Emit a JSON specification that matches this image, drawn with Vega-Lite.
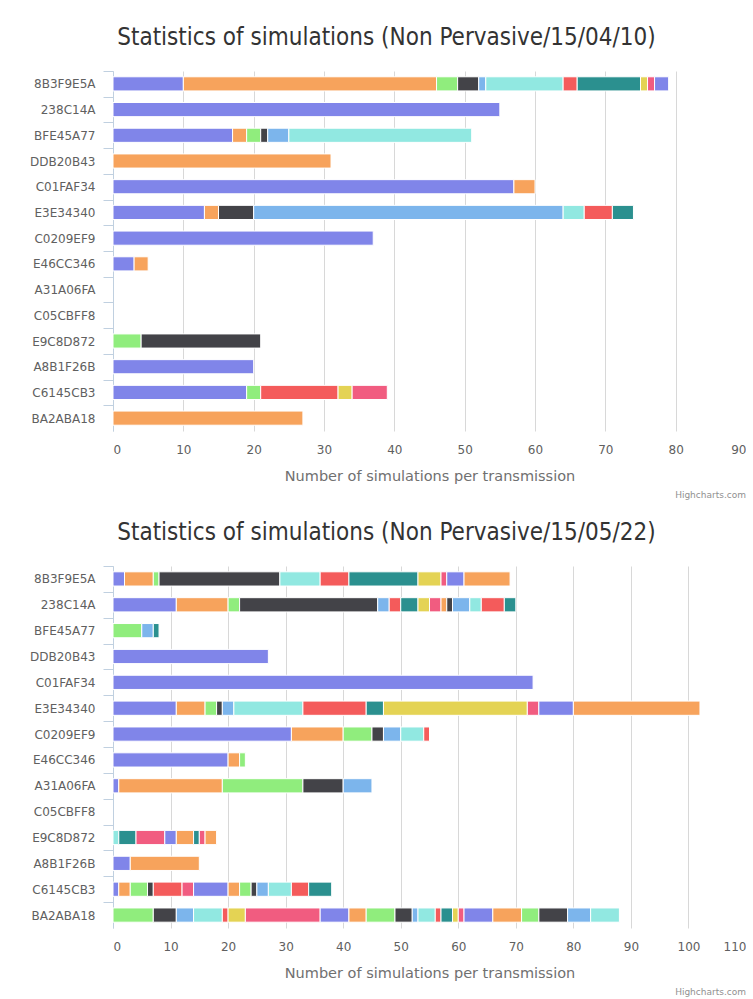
{
  "$schema": "https://vega.github.io/schema/vega-lite/v6.json",
  "background": "white",
  "padding": {"left": 15, "top": 25, "right": 0, "bottom": 2},
  "spacing": 20,
  "config": {
    "font": "DejaVu Sans",
    "view": {"stroke": null},
    "title": {"font": "DejaVu Sans Condensed", "fontSize": 24, "fontWeight": "normal", "color": "#333333", "anchor": "middle", "offset": 21},
    "axis": {"labelFont": "DejaVu Sans", "titleFont": "DejaVu Sans"}
  },
  "datasets": {
    "a": [
      {"id": "8B3F9E5A", "series": 1, "n": 10}, {"id": "8B3F9E5A", "series": 2, "n": 36}, {"id": "8B3F9E5A", "series": 3, "n": 3}, {"id": "8B3F9E5A", "series": 4, "n": 3}, {"id": "8B3F9E5A", "series": 5, "n": 1}, {"id": "8B3F9E5A", "series": 6, "n": 11}, {"id": "8B3F9E5A", "series": 7, "n": 2}, {"id": "8B3F9E5A", "series": 8, "n": 9}, {"id": "8B3F9E5A", "series": 9, "n": 1}, {"id": "8B3F9E5A", "series": 10, "n": 1}, {"id": "8B3F9E5A", "series": 11, "n": 2},
      {"id": "238C14A", "series": 1, "n": 55},
      {"id": "BFE45A77", "series": 1, "n": 17}, {"id": "BFE45A77", "series": 2, "n": 2}, {"id": "BFE45A77", "series": 3, "n": 2}, {"id": "BFE45A77", "series": 4, "n": 1}, {"id": "BFE45A77", "series": 5, "n": 3}, {"id": "BFE45A77", "series": 6, "n": 26},
      {"id": "DDB20B43", "series": 2, "n": 31},
      {"id": "C01FAF34", "series": 1, "n": 57}, {"id": "C01FAF34", "series": 2, "n": 3},
      {"id": "E3E34340", "series": 1, "n": 13}, {"id": "E3E34340", "series": 2, "n": 2}, {"id": "E3E34340", "series": 4, "n": 5}, {"id": "E3E34340", "series": 5, "n": 44}, {"id": "E3E34340", "series": 6, "n": 3}, {"id": "E3E34340", "series": 7, "n": 4}, {"id": "E3E34340", "series": 8, "n": 3},
      {"id": "C0209EF9", "series": 1, "n": 37},
      {"id": "E46CC346", "series": 1, "n": 3}, {"id": "E46CC346", "series": 2, "n": 2},
      {"id": "E9C8D872", "series": 3, "n": 4}, {"id": "E9C8D872", "series": 4, "n": 17},
      {"id": "A8B1F26B", "series": 1, "n": 20},
      {"id": "C6145CB3", "series": 1, "n": 19}, {"id": "C6145CB3", "series": 3, "n": 2}, {"id": "C6145CB3", "series": 7, "n": 11}, {"id": "C6145CB3", "series": 9, "n": 2}, {"id": "C6145CB3", "series": 10, "n": 5},
      {"id": "BA2ABA18", "series": 2, "n": 27}
    ],
    "b": [
      {"id": "8B3F9E5A", "series": 1, "n": 2}, {"id": "8B3F9E5A", "series": 2, "n": 5}, {"id": "8B3F9E5A", "series": 3, "n": 1}, {"id": "8B3F9E5A", "series": 4, "n": 21}, {"id": "8B3F9E5A", "series": 6, "n": 7}, {"id": "8B3F9E5A", "series": 7, "n": 5}, {"id": "8B3F9E5A", "series": 8, "n": 12}, {"id": "8B3F9E5A", "series": 9, "n": 4}, {"id": "8B3F9E5A", "series": 10, "n": 1}, {"id": "8B3F9E5A", "series": 11, "n": 3}, {"id": "8B3F9E5A", "series": 12, "n": 8},
      {"id": "238C14A", "series": 1, "n": 11}, {"id": "238C14A", "series": 2, "n": 9}, {"id": "238C14A", "series": 3, "n": 2}, {"id": "238C14A", "series": 4, "n": 24}, {"id": "238C14A", "series": 5, "n": 2}, {"id": "238C14A", "series": 7, "n": 2}, {"id": "238C14A", "series": 8, "n": 3}, {"id": "238C14A", "series": 9, "n": 2}, {"id": "238C14A", "series": 10, "n": 2}, {"id": "238C14A", "series": 12, "n": 1}, {"id": "238C14A", "series": 14, "n": 1}, {"id": "238C14A", "series": 15, "n": 3}, {"id": "238C14A", "series": 16, "n": 2}, {"id": "238C14A", "series": 17, "n": 4}, {"id": "238C14A", "series": 18, "n": 2},
      {"id": "BFE45A77", "series": 3, "n": 5}, {"id": "BFE45A77", "series": 5, "n": 2}, {"id": "BFE45A77", "series": 8, "n": 1},
      {"id": "DDB20B43", "series": 1, "n": 27},
      {"id": "C01FAF34", "series": 1, "n": 73},
      {"id": "E3E34340", "series": 1, "n": 11}, {"id": "E3E34340", "series": 2, "n": 5}, {"id": "E3E34340", "series": 3, "n": 2}, {"id": "E3E34340", "series": 4, "n": 1}, {"id": "E3E34340", "series": 5, "n": 2}, {"id": "E3E34340", "series": 6, "n": 12}, {"id": "E3E34340", "series": 7, "n": 11}, {"id": "E3E34340", "series": 8, "n": 3}, {"id": "E3E34340", "series": 9, "n": 25}, {"id": "E3E34340", "series": 10, "n": 2}, {"id": "E3E34340", "series": 11, "n": 6}, {"id": "E3E34340", "series": 12, "n": 22},
      {"id": "C0209EF9", "series": 1, "n": 31}, {"id": "C0209EF9", "series": 2, "n": 9}, {"id": "C0209EF9", "series": 3, "n": 5}, {"id": "C0209EF9", "series": 4, "n": 2}, {"id": "C0209EF9", "series": 5, "n": 3}, {"id": "C0209EF9", "series": 6, "n": 4}, {"id": "C0209EF9", "series": 7, "n": 1},
      {"id": "E46CC346", "series": 1, "n": 20}, {"id": "E46CC346", "series": 2, "n": 2}, {"id": "E46CC346", "series": 3, "n": 1},
      {"id": "A31A06FA", "series": 1, "n": 1}, {"id": "A31A06FA", "series": 2, "n": 18}, {"id": "A31A06FA", "series": 3, "n": 14}, {"id": "A31A06FA", "series": 4, "n": 7}, {"id": "A31A06FA", "series": 5, "n": 5},
      {"id": "E9C8D872", "series": 6, "n": 1}, {"id": "E9C8D872", "series": 8, "n": 3}, {"id": "E9C8D872", "series": 10, "n": 5}, {"id": "E9C8D872", "series": 11, "n": 2}, {"id": "E9C8D872", "series": 12, "n": 3}, {"id": "E9C8D872", "series": 18, "n": 1}, {"id": "E9C8D872", "series": 20, "n": 1}, {"id": "E9C8D872", "series": 22, "n": 2},
      {"id": "A8B1F26B", "series": 1, "n": 3}, {"id": "A8B1F26B", "series": 2, "n": 12},
      {"id": "C6145CB3", "series": 1, "n": 1}, {"id": "C6145CB3", "series": 2, "n": 2}, {"id": "C6145CB3", "series": 3, "n": 3}, {"id": "C6145CB3", "series": 4, "n": 1}, {"id": "C6145CB3", "series": 7, "n": 5}, {"id": "C6145CB3", "series": 10, "n": 2}, {"id": "C6145CB3", "series": 11, "n": 6}, {"id": "C6145CB3", "series": 12, "n": 2}, {"id": "C6145CB3", "series": 13, "n": 2}, {"id": "C6145CB3", "series": 14, "n": 1}, {"id": "C6145CB3", "series": 15, "n": 2}, {"id": "C6145CB3", "series": 16, "n": 4}, {"id": "C6145CB3", "series": 17, "n": 3}, {"id": "C6145CB3", "series": 18, "n": 4},
      {"id": "BA2ABA18", "series": 3, "n": 7}, {"id": "BA2ABA18", "series": 4, "n": 4}, {"id": "BA2ABA18", "series": 5, "n": 3}, {"id": "BA2ABA18", "series": 6, "n": 5}, {"id": "BA2ABA18", "series": 7, "n": 1}, {"id": "BA2ABA18", "series": 9, "n": 3}, {"id": "BA2ABA18", "series": 10, "n": 13}, {"id": "BA2ABA18", "series": 11, "n": 5}, {"id": "BA2ABA18", "series": 12, "n": 3}, {"id": "BA2ABA18", "series": 13, "n": 5}, {"id": "BA2ABA18", "series": 14, "n": 3}, {"id": "BA2ABA18", "series": 15, "n": 1}, {"id": "BA2ABA18", "series": 16, "n": 3}, {"id": "BA2ABA18", "series": 17, "n": 1}, {"id": "BA2ABA18", "series": 18, "n": 2}, {"id": "BA2ABA18", "series": 19, "n": 1}, {"id": "BA2ABA18", "series": 20, "n": 1}, {"id": "BA2ABA18", "series": 21, "n": 5}, {"id": "BA2ABA18", "series": 22, "n": 5}, {"id": "BA2ABA18", "series": 23, "n": 3}, {"id": "BA2ABA18", "series": 24, "n": 5}, {"id": "BA2ABA18", "series": 25, "n": 4}, {"id": "BA2ABA18", "series": 26, "n": 5}
    ]
  },
  "vconcat": [
    {
      "title": {"text": "Statistics of simulations (Non Pervasive/15/04/10)", "dx": 6},
      "vconcat": [
        {
          "title": {"text": "Highcharts.com", "orient": "bottom", "anchor": "end", "fontSize": 9, "font": "DejaVu Sans", "color": "#909090", "offset": 8},
          "data": {"name": "a"},
          "width": 633,
          "height": 360,
          "mark": {"type": "bar", "stroke": "#ffffff", "strokeWidth": 1},
          "encoding": {
            "y": {
              "field": "id", "type": "nominal",
              "scale": {"domain": ["8B3F9E5A", "238C14A", "BFE45A77", "DDB20B43", "C01FAF34", "E3E34340", "C0209EF9", "E46CC346", "A31A06FA", "C05CBFF8", "E9C8D872", "A8B1F26B", "C6145CB3", "BA2ABA18"], "paddingInner": 0.45, "paddingOuter": 0.225},
              "axis": {"title": null, "domainColor": "#C0D0E0", "tickColor": "#C0D0E0", "tickSize": 10, "tickOffset": -12.857, "labelOffset": 12.857, "labelPadding": 8, "labelFontSize": 12, "labelColor": "#606060", "grid": false, "minExtent": 98, "maxExtent": 98}
            },
            "x": {
              "field": "n", "type": "quantitative", "stack": "zero",
              "scale": {"domain": [0, 90], "nice": false},
              "axis": {"title": "Number of simulations per transmission", "values": [0, 10, 20, 30, 40, 50, 60, 70, 80, 90], "domain": false, "ticks": false, "gridColor": "#D8D8D8", "labelFontSize": 12, "labelColor": "#606060", "labelPadding": 13, "titleFontSize": 14.5, "titleFontWeight": "normal", "titleColor": "#707070", "titlePadding": 14}
            },
            "color": {
              "field": "series", "type": "nominal", "legend": null,
              "scale": {"domain": [1,2,3,4,5,6,7,8,9,10,11,12,13,14,15,16,17,18,19,20,21,22,23,24,25,26],
                        "range": ["#8085e9","#f7a35c","#90ed7d","#434348","#7cb5ec","#91e8e1","#f45b5b","#2b908f","#e4d354","#f15c80","#8085e9","#f7a35c","#90ed7d","#434348","#7cb5ec","#91e8e1","#f45b5b","#2b908f","#e4d354","#f15c80","#8085e9","#f7a35c","#90ed7d","#434348","#7cb5ec","#91e8e1"]}
            },
            "order": {"field": "series", "type": "quantitative"}
          }
        }
      ]
    },
    {
      "title": {"text": "Statistics of simulations (Non Pervasive/15/05/22)", "dx": 6},
      "vconcat": [
        {
          "title": {"text": "Highcharts.com", "orient": "bottom", "anchor": "end", "fontSize": 9, "font": "DejaVu Sans", "color": "#909090", "offset": 8},
          "data": {"name": "b"},
          "width": 633,
          "height": 362,
          "mark": {"type": "bar", "stroke": "#ffffff", "strokeWidth": 1},
          "encoding": {
            "y": {
              "field": "id", "type": "nominal",
              "scale": {"domain": ["8B3F9E5A", "238C14A", "BFE45A77", "DDB20B43", "C01FAF34", "E3E34340", "C0209EF9", "E46CC346", "A31A06FA", "C05CBFF8", "E9C8D872", "A8B1F26B", "C6145CB3", "BA2ABA18"], "paddingInner": 0.45, "paddingOuter": 0.225},
              "axis": {"title": null, "domainColor": "#C0D0E0", "tickColor": "#C0D0E0", "tickSize": 10, "tickOffset": -12.93, "labelOffset": 12.93, "labelPadding": 8, "labelFontSize": 12, "labelColor": "#606060", "grid": false, "minExtent": 98, "maxExtent": 98}
            },
            "x": {
              "field": "n", "type": "quantitative", "stack": "zero",
              "scale": {"domain": [0, 110], "nice": false},
              "axis": {"title": "Number of simulations per transmission", "values": [0, 10, 20, 30, 40, 50, 60, 70, 80, 90, 100, 110], "domain": false, "ticks": false, "gridColor": "#D8D8D8", "labelFontSize": 12, "labelColor": "#606060", "labelPadding": 13, "titleFontSize": 14.5, "titleFontWeight": "normal", "titleColor": "#707070", "titlePadding": 14}
            },
            "color": {
              "field": "series", "type": "nominal", "legend": null,
              "scale": {"domain": [1,2,3,4,5,6,7,8,9,10,11,12,13,14,15,16,17,18,19,20,21,22,23,24,25,26],
                        "range": ["#8085e9","#f7a35c","#90ed7d","#434348","#7cb5ec","#91e8e1","#f45b5b","#2b908f","#e4d354","#f15c80","#8085e9","#f7a35c","#90ed7d","#434348","#7cb5ec","#91e8e1","#f45b5b","#2b908f","#e4d354","#f15c80","#8085e9","#f7a35c","#90ed7d","#434348","#7cb5ec","#91e8e1"]}
            },
            "order": {"field": "series", "type": "quantitative"}
          }
        }
      ]
    }
  ]
}
